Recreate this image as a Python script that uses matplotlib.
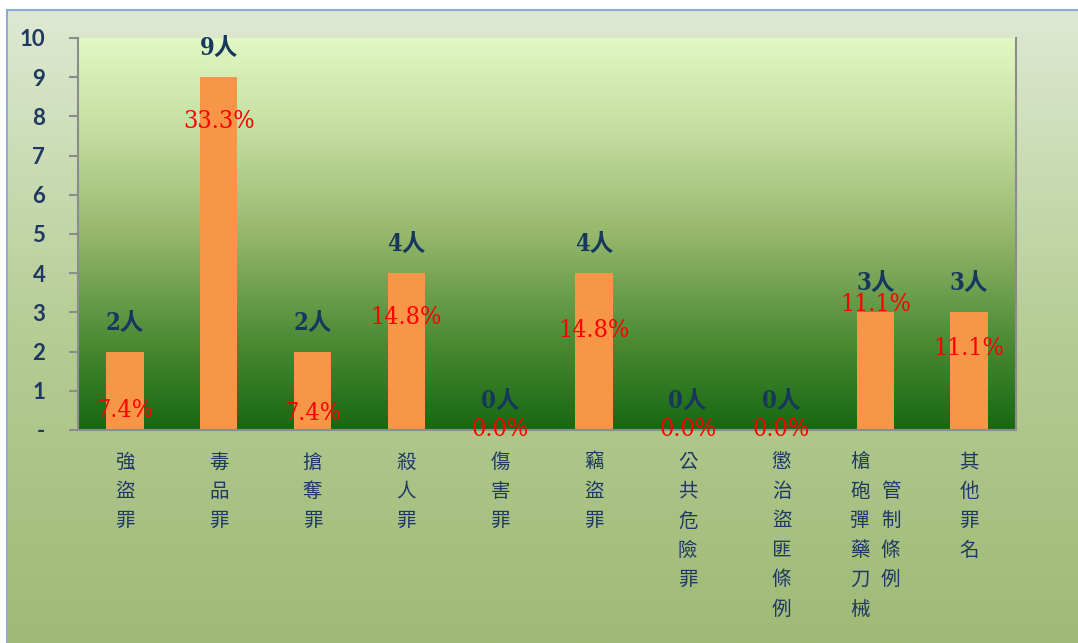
import matplotlib
matplotlib.use("Agg")
import matplotlib.pyplot as plt
import numpy as np
from matplotlib.colors import LinearSegmentedColormap

plt.rcParams['font.family'] = ['Noto Sans CJK TC', 'DejaVu Sans']

# data
categories = ["強盜罪", "毒品罪", "搶奪罪", "殺人罪", "傷害罪", "竊盜罪",
              "公共危險罪", "懲治盜匪條例", "槍砲彈藥刀械管制條例", "其他罪名"]
counts = [2, 9, 2, 4, 0, 4, 0, 0, 3, 3]
percents = [7.4, 33.3, 7.4, 14.8, 0.0, 14.8, 0.0, 0.0, 11.1, 11.1]
# where the percent labels sit (y in data units), as in the reference
percent_label_y = [0.51, 7.86, 0.43, 2.88, 0.0, 2.55, 0.0, 0.0, 3.19, 2.07]
ytick_labels = ["-", "1", "2", "3", "4", "5", "6", "7", "8", "9", "10"]

W, H = 1078, 643
fig = plt.figure(figsize=(W / 100, H / 100), dpi=100, facecolor="white")

# chart area background (gradient, border on left/top)
bg = fig.add_axes([7 / W, 0, 1 - 7 / W, 1 - 10 / H], zorder=0)
bg_cmap = LinearSegmentedColormap.from_list("bg", ["#9fba76", "#b6cd95", "#dee9d2"])
bg.imshow(np.linspace(0, 1, 256).reshape(-1, 1), cmap=bg_cmap, aspect="auto",
          origin="lower", extent=[0, 1, 0, 1])
bg.set_xlim(0, 1)
bg.set_ylim(0, 1)
bg.set_xticks([])
bg.set_yticks([])
for side in ["right", "bottom"]:
    bg.spines[side].set_visible(False)
for side in ["left", "top"]:
    bg.spines[side].set_color("#8eaad6")
    bg.spines[side].set_linewidth(1.5)

# plot area
ax = fig.add_axes([78 / W, 1 - 430 / H, (1016 - 78) / W, (430 - 38) / H], zorder=1)
plot_cmap = LinearSegmentedColormap.from_list(
    "plot", [(0.0, "#176812"), (0.22, "#4a8a33"), (0.5, "#96b76c"),
             (0.75, "#c2dc9e"), (1.0, "#e2f8c3")])
x = np.arange(len(categories))
ax.imshow(np.linspace(0, 1, 256).reshape(-1, 1), cmap=plot_cmap, aspect="auto",
          origin="lower", extent=[-0.5, len(categories) - 0.5, 0, 10], zorder=0)

ax.bar(x, counts, width=0.4, color="#f79646", zorder=2)

ax.set_xlim(-0.5, len(categories) - 0.5)
ax.set_ylim(0, 10)
ax.set_yticks(range(11))
ax.set_yticklabels(ytick_labels, fontfamily="Lato", fontweight="bold",
                   fontsize=16, color="#1f3864")
ax.tick_params(axis="y", direction="out", length=6.5, width=1.5,
               color="#8c8c8c", pad=17)
ax.set_xticks([])
ax.spines["top"].set_visible(False)
for side in ["left", "bottom", "right"]:
    ax.spines[side].set_color("#8c8c8c")
    ax.spines[side].set_linewidth(1.5)

label_font = ["DejaVu Serif", "Noto Sans CJK TC"]

# count labels above the bars
for i, c in enumerate(counts):
    ax.annotate(f"{c}人", xy=(i, c), xytext=(0, 21), textcoords="offset points",
                ha="center", va="center", fontsize=17, color="#17375e",
                family=label_font, fontstretch="condensed", fontweight="bold",
                zorder=3)

# percentage labels
for i, (p, py) in enumerate(zip(percents, percent_label_y)):
    ax.annotate(f"{p:.1f}%", xy=(i, py), ha="center", va="center",
                fontsize=18, color="#ff0000", family=label_font,
                fontstretch="condensed", annotation_clip=False, zorder=3)

# vertical category labels, one character per row
trans = ax.get_xaxis_transform()
row_step = 21.2
first_row = 23
for i, name in enumerate(categories):
    if len(name) > 6:
        columns = [(name[:6], -11, 0), (name[6:], 11, 1)]
    else:
        columns = [(name, 0, 0)]
    for text, dx, start in columns:
        for j, ch in enumerate(text):
            ax.annotate(ch, xy=(i, 0), xycoords=trans,
                        xytext=(dx, -(first_row + row_step * (start + j))),
                        textcoords="offset points", ha="center", va="center",
                        fontsize=14, color="#1f3864", annotation_clip=False)

fig.savefig("out.png", dpi=100, facecolor="white")
